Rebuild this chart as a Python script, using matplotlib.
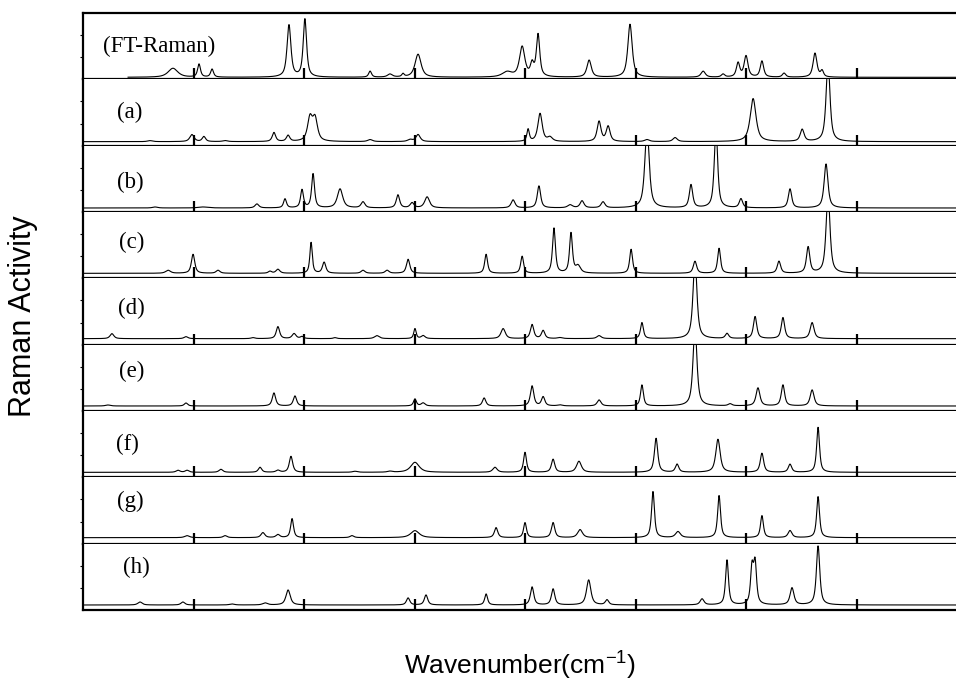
import numpy as np
import matplotlib
matplotlib.use("Agg")
import matplotlib.pyplot as plt

plt.rcParams['mathtext.default'] = 'regular'

# ---------------- data (peak lists, wavenumber in cm-1, intensity in arbitrary units) ----------
panel_labels = ["(FT-Raman)", "(a)", "(b)", "(c)", "(d)", "(e)", "(f)", "(g)", "(h)"]

ft_pos = [3593, 3475, 3416, 3068, 2996, 2701, 2611, 2552, 2484, 2081, 2013, 1968, 1941, 1710, 1525,
          1194, 1104, 1036, 1000, 928, 828, 688, 656]
ft_int = [9, 13, 8, 52, 58, 6, 3, 3, 23, 5, 30, 12, 42, 17, 53, 6, 3, 14, 21, 16, 4, 24, 6]
ft_fwhm = [40, 12, 12, 16, 14, 12, 20, 10, 25, 40, 22, 14, 14, 18, 18, 18, 14, 14, 16, 14, 14, 16, 12]

a_pos = [3697, 3507, 3453, 3357, 3136, 3072, 2973, 2950, 2701, 2520, 2484, 1986, 1932, 1887, 1665,
         1624, 1448, 1321, 968, 746, 629]
a_int = [1, 7, 5, 1, 9, 6, 23, 22, 2, 2, 7, 12, 28, 4, 20, 15, 2, 4, 43, 12, 80]
a_fwhm = [20, 18, 14, 20, 14, 14, 20, 20, 20, 20, 18, 10, 18, 20, 16, 16, 20, 18, 24, 16, 16]

b_pos = [3674, 3457, 3213, 3086, 3009, 2959, 2837, 2733, 2575, 2511, 2443, 2054, 1937, 1796, 1742,
         1647, 1448, 1249, 1136, 1023, 801, 638]
b_int = [1, 1, 4, 9, 18, 34, 19, 6, 13, 5, 11, 8, 22, 3, 7, 6, 80, 23, 80, 9, 19, 44]
b_fwhm = [20, 40, 16, 12, 12, 12, 22, 16, 14, 16, 20, 16, 14, 20, 16, 16, 18, 14, 14, 14, 14, 16]

c_pos = [3615, 3502, 3389, 3154, 3118, 2968, 2909, 2733, 2624, 2529, 2176, 2013, 1869, 1792, 1760,
         1520, 1231, 1122, 851, 719, 629]
c_int = [3, 19, 3, 2, 4, 31, 11, 3, 3, 14, 19, 17, 45, 40, 7, 24, 12, 25, 12, 26, 80]
c_fwhm = [20, 14, 16, 14, 16, 10, 14, 16, 16, 14, 12, 12, 12, 12, 20, 12, 14, 12, 14, 14, 16]

d_pos = [3869, 3534, 3231, 3118, 3045, 3009, 2860, 2670, 2498, 2461, 2099, 1968, 1918, 1842, 1665,
         1471, 1231, 1086, 959, 833, 701]
d_int = [5, 2, 1, 12, 5, 2, 1, 3, 10, 3, 10, 14, 8, 1, 3, 16, 80, 5, 22, 21, 16]
d_fwhm = [16, 16, 16, 14, 16, 14, 14, 20, 10, 16, 18, 14, 14, 20, 18, 12, 16, 14, 14, 14, 16]

e_pos = [3887, 3534, 3136, 3041, 2498, 2461, 2185, 1968, 1918, 1842, 1665, 1471, 1231, 1072, 946, 833, 701]
e_int = [1, 3, 13, 10, 7, 3, 8, 20, 9, 1, 6, 21, 80, 2, 18, 21, 16]
e_fwhm = [20, 14, 14, 14, 12, 16, 14, 14, 14, 20, 16, 12, 16, 16, 16, 14, 16]

f_pos = [3570, 3529, 3376, 3199, 3118, 3059, 2769, 2611, 2498, 2136, 2000, 1873, 1756, 1407, 1312,
         1127, 928, 801, 674]
f_int = [2, 2, 3, 5, 2, 16, 1, 1, 10, 5, 20, 13, 11, 34, 8, 33, 19, 8, 45]
f_fwhm = [16, 16, 16, 14, 16, 14, 20, 20, 35, 18, 12, 14, 20, 14, 14, 18, 14, 14, 12]

g_pos = [3529, 3357, 3186, 3118, 3054, 2783, 2498, 2131, 2000, 1873, 1751, 1421, 1308, 1122, 928, 801, 674]
g_int = [2, 2, 5, 3, 19, 2, 7, 10, 15, 15, 8, 46, 6, 42, 22, 7, 41]
g_fwhm = [20, 16, 16, 16, 12, 16, 35, 14, 12, 14, 20, 12, 20, 12, 12, 16, 12]

h_pos = [3742, 3548, 3326, 3176, 3072, 2529, 2448, 2176, 1968, 1873, 1712, 1629, 1199, 1086, 973, 959, 792, 674]
h_int = [3, 3, 1, 2, 15, 7, 10, 11, 18, 16, 25, 5, 6, 45, 36, 40, 17, 59]
h_fwhm = [18, 16, 20, 20, 18, 14, 14, 12, 14, 14, 18, 14, 16, 12, 12, 12, 16, 14]

spectrum_start = [3796, 4000, 4000, 4000, 4000, 4000, 4000, 4000, 4000]
x_major_ticks = [3500, 3000, 2500, 2000, 1500, 1000, 500]

panels = [(ft_pos, ft_int, ft_fwhm), (a_pos, a_int, a_fwhm), (b_pos, b_int, b_fwhm),
          (c_pos, c_int, c_fwhm), (d_pos, d_int, d_fwhm), (e_pos, e_int, e_fwhm),
          (f_pos, f_int, f_fwhm), (g_pos, g_int, g_fwhm), (h_pos, h_int, h_fwhm)]

# ---------------- layout / style ----------------
width_scale = 1.3
baseline_offset = [2, 4, 4, 5, 6, 5, 5, 6, 5]
panel_height = 66.3
label_x = [103, 117, 117, 119, 118, 119, 116, 117, 123]
label_frac = [0.5, 0.5, 0.45, 0.54, 0.55, 0.6, 0.5, 0.64, 0.64]

W, H = 956, 688
fig = plt.figure(figsize=(W / 100, H / 100), dpi=100)
left, right = 83 / W, 1.0
top, bottom = 1 - 13 / H, 1 - 610 / H
gs = fig.add_gridspec(9, 1, left=left, right=right, top=top, bottom=bottom, hspace=0)


def profile(x, pos, inten, fwhm):
    y = np.zeros_like(x)
    for p, a, w in zip(pos, inten, fwhm):
        hw = w * width_scale / 2.0
        lor = 1.0 / (1.0 + ((x - p) / hw) ** 2)
        gau = np.exp(-np.log(2) * ((x - p) / hw) ** 2)
        y += a * (0.75 * lor + 0.25 * gau)
    return y


for i, (pos, inten, fwhm) in enumerate(panels):
    ax = fig.add_subplot(gs[i, 0])
    x = np.linspace(spectrum_start[i], 50, 3000)
    y = profile(x, pos, inten, fwhm)
    ax.plot(x, y, color='black', lw=0.8)
    ax.set_xlim(4000, 50)
    ax.set_ylim(-baseline_offset[i], panel_height - baseline_offset[i])
    ax.set_xticks(x_major_ticks)
    ax.set_xticklabels([])
    ax.tick_params(axis='x', direction='in', length=8, width=1.6, bottom=True, top=False)
    yt = np.linspace(-baseline_offset[i], panel_height - baseline_offset[i], 4)[1:-1]
    ax.set_yticks(yt)
    ax.set_yticklabels([])
    ax.tick_params(axis='y', direction='out', length=2, width=0.8)
    for s in ['left', 'bottom', 'top']:
        ax.spines[s].set_linewidth(1.6)
    ax.spines['right'].set_visible(False)
    if i > 0:
        ax.spines['top'].set_visible(False)
    ax.text((label_x[i] - 83) / (W - 83), label_frac[i], panel_labels[i],
            transform=ax.transAxes, ha='left', va='center',
            family='Liberation Serif', fontsize=16.5)

fig.text(23 / W, 1 - 316 / H, 'Raman Activity', rotation=90, ha='center', va='center',
         family='Liberation Sans', fontsize=22)
fig.text(520 / W, 1 - 666 / H, 'Wavenumber(cm$^{-1}$)', ha='center', va='center',
         family='Liberation Sans', fontsize=19)

fig.savefig('out.png', dpi=100)
